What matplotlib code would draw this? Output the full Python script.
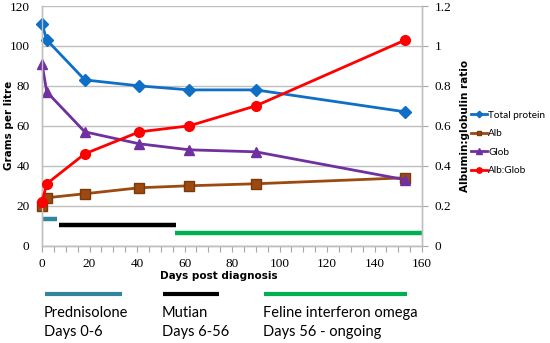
import numpy as np
import matplotlib
matplotlib.use("Agg")
import matplotlib.pyplot as plt
from matplotlib.ticker import MultipleLocator

# values
days = [0, 2, 18, 41, 62, 90, 153]
total_protein = [111, 103, 83, 80, 78, 78, 67]
alb = [20, 24, 26, 29, 30, 31, 34]
glob = [91, 77, 57, 51, 48, 47, 33]
alb_glob = [0.22, 0.31, 0.46, 0.57, 0.60, 0.70, 1.03]

# treatment periods: name, dose text, start day, end day, level on left axis
treatments = ["Prednisolone", "Mutian", "Feline interferon omega"]
treatment_days = ["Days 0-6", "Days 6-56", "Days 56 - ongoing"]
treatment_start = [0, 7, 56]
treatment_end = [6.5, 56.5, 160]
treatment_level = [13.5, 10.2, 6.5]
treatment_colors = ["#31859C", "#000000", "#00B050"]

grid_col = "#BFBFBF"
tick_font = "Liberation Serif"
label_font = "DejaVu Sans"
text_font = "Lato"

fig = plt.figure(figsize=(5.5, 3.43), dpi=100)
ax = fig.add_axes([0.0764, 0.2837, 0.6909, 0.6988])
ax2 = ax.twinx()

ax.set_xlim(0, 160)
ax.set_ylim(0, 120)
ax2.set_ylim(0, 1.2)

ax.yaxis.set_major_locator(MultipleLocator(20))
ax.xaxis.set_major_locator(MultipleLocator(20))
ax.xaxis.set_minor_locator(MultipleLocator(5))
ax2.yaxis.set_major_locator(MultipleLocator(0.2))
ax.grid(axis="y", color=grid_col, linewidth=1.0)
ax.set_axisbelow(True)

for a in (ax, ax2):
    a.spines["top"].set_visible(False)
    for side in ("left", "right", "bottom"):
        a.spines[side].set_color(grid_col)
        a.spines[side].set_linewidth(1.0)

ax.tick_params(axis="x", which="both", direction="out", color="#A6A6A6",
               length=4, width=0.8, pad=5)
ax.tick_params(axis="y", length=0, pad=9)
ax2.tick_params(axis="y", direction="out", color="#A6A6A6", length=4,
                width=0.8, pad=5)

ax.set_yticks(np.arange(0, 121, 20))
ax.set_yticklabels([str(v) for v in range(0, 121, 20)])
ax2.set_yticks(np.arange(0, 1.21, 0.2))
ax2.set_yticklabels(["0", "0.2", "0.4", "0.6", "0.8", "1", "1.2"])

for lab in ax.get_xticklabels() + ax.get_yticklabels() + ax2.get_yticklabels():
    lab.set_fontfamily(tick_font)
    lab.set_fontsize(9.5)

# treatment bars inside the plot
for s, e, lvl, c in zip(treatment_start, treatment_end, treatment_level,
                        treatment_colors):
    ax.plot([s, e], [lvl, lvl], color=c, linewidth=3.2,
            solid_capstyle="butt", zorder=2)

l1, = ax.plot(days, total_protein, color="#0F6FC6", linewidth=2,
              marker="D", markersize=6, label="Total protein", zorder=4,
              clip_on=False)
l2, = ax.plot(days, alb, color="#9C4A0F", linewidth=2, marker="s",
              markersize=6.5, markeredgecolor="#7A3A0C", label="Alb", zorder=4,
              clip_on=False)
l3, = ax.plot(days, glob, color="#7030A0", linewidth=2, marker="^",
              markersize=7, label="Glob", zorder=4, clip_on=False)
l4, = ax2.plot(days, alb_glob, color="#FF0000", linewidth=2, marker="o",
               markersize=7, label="Alb:Glob", zorder=4, clip_on=False)

fig.text(0.016, 0.6331, "Grams per litre", fontsize=7.5, fontweight="bold",
         fontfamily=label_font, rotation=90, ha="center", va="center")
ax2.set_ylabel("Albumin:globulin ratio", fontsize=7.5, fontweight="bold",
               fontfamily=label_font, labelpad=6)
fig.text(0.398, 0.195, "Days post diagnosis", fontsize=7.5,
         fontweight="bold", fontfamily=label_font, ha="center", va="center")

fig.legend(handles=[l1, l2, l3, l4], loc="upper left",
           bbox_to_anchor=(0.857, 0.677), frameon=False,
           prop={"family": text_font, "size": 7.2},
           handlelength=1.6, handletextpad=0.1, labelspacing=0.95,
           markerscale=0.55, borderaxespad=0, borderpad=0)

# treatment key below the chart
key_x0 = [45, 163, 264]
key_x1 = [122, 219, 407]
for name, dtext, x0, x1, c in zip(treatments, treatment_days, key_x0, key_x1,
                                  treatment_colors):
    fig.add_artist(plt.Line2D([x0 / 550, x1 / 550], [1 - 294 / 343] * 2,
                              color=c, linewidth=3, solid_capstyle="butt"))
    fig.text((x0 - 1) / 550, 1 - 313 / 343, name, fontsize=10.5,
             fontfamily=text_font, va="center", ha="left")
    fig.text((x0 - 1) / 550, 1 - 332 / 343, dtext, fontsize=10.5,
             fontfamily=text_font, va="center", ha="left")

fig.savefig("out.png", dpi=100)
